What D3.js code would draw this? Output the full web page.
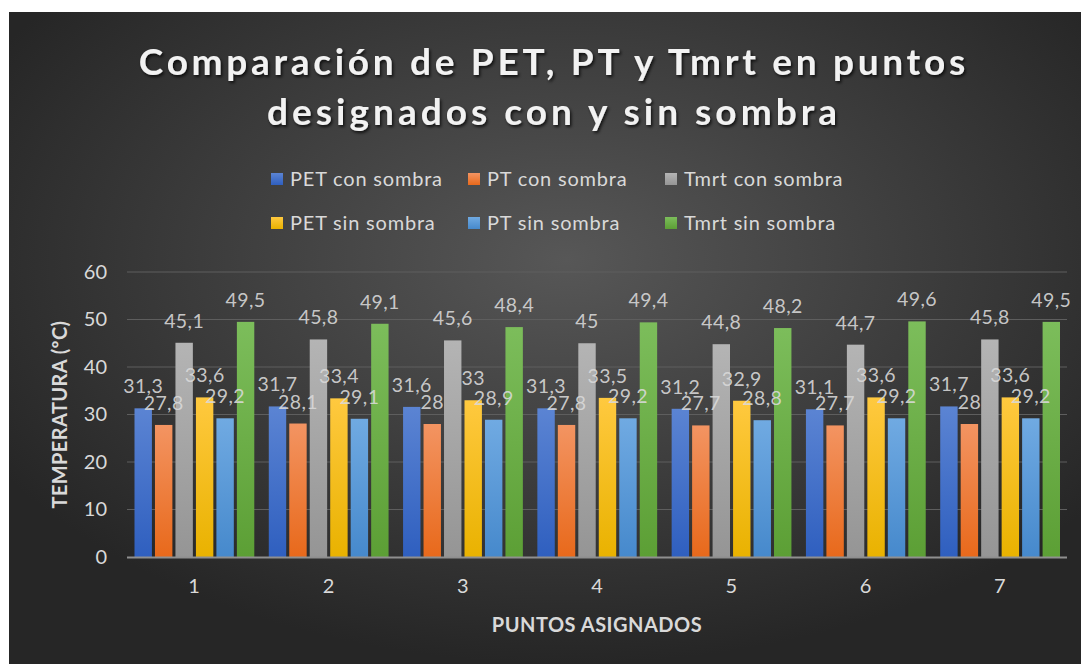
<!DOCTYPE html>
<html>
<head>
<meta charset="utf-8">
<script src="https://cdn.jsdelivr.net/npm/d3@7"></script>
<style>
	html, body { margin: 0; padding: 0; background: #ffffff; }
	svg { display: block; }
	text { font-family: Lato, 'Open Sans', sans-serif; }
</style>
</head>
<body>
<div id="chart"></div>
<script>
//----
//Data
//----
var categories = ['1', '2', '3', '4', '5', '6', '7']
var seriesNames = ['PET con sombra', 'PT con sombra', 'Tmrt con sombra', 'PET sin sombra', 'PT sin sombra', 'Tmrt sin sombra']
var petCon = [31.3, 31.7, 31.6, 31.3, 31.2, 31.1, 31.7]
var ptCon = [27.8, 28.1, 28, 27.8, 27.7, 27.7, 28]
var tmrtCon = [45.1, 45.8, 45.6, 45, 44.8, 44.7, 45.8]
var petSin = [33.6, 33.4, 33, 33.5, 32.9, 33.6, 33.6]
var ptSin = [29.2, 29.1, 28.9, 29.2, 28.8, 29.2, 29.2]
var tmrtSin = [49.5, 49.1, 48.4, 49.4, 48.2, 49.6, 49.5]
var yTicks = [0, 10, 20, 30, 40, 50, 60]

var seriesValues = [petCon, ptCon, tmrtCon, petSin, ptSin, tmrtSin]

//colours: [top of bar, bottom of bar]
var _colors = [
	['#5b84d3', '#2f5fbf'],
	['#f39462', '#e8691b'],
	['#b4b4b4', '#959595'],
	['#ffc93f', '#e9b200'],
	['#70aae2', '#4689cc'],
	['#7cbd5b', '#5c9f35']
]

var _width = 1086,
	_height = 664

var _plot = { left: 127, right: 1067, top: 272, bottom: 557 }

//----------------
//Build the chart
//----------------
var _svg = d3.select('#chart').append('svg')
	.attr('width', _width)
	.attr('height', _height)

var _defs = _svg.append('defs')

//Background gradient
var bg = _defs.append('radialGradient')
	.attr('id', 'bg')
	.attr('cx', '52%').attr('cy', '38%').attr('r', '62%')
bg.append('stop').attr('offset', '0%').attr('stop-color', '#575757')
bg.append('stop').attr('offset', '100%').attr('stop-color', '#262626')

//Bar gradients
_colors.forEach(function(c, i){
	var g = _defs.append('linearGradient')
		.attr('id', 'bar' + i)
		.attr('x1', 0).attr('y1', 0).attr('x2', 0).attr('y2', 1)
	g.append('stop').attr('offset', '0%').attr('stop-color', c[0])
	g.append('stop').attr('offset', '100%').attr('stop-color', c[1])
})

//Title shadow
var shadow = _defs.append('filter').attr('id', 'shadow')
	.attr('x', '-10%').attr('y', '-30%').attr('width', '120%').attr('height', '160%')
shadow.append('feDropShadow')
	.attr('dx', 1.5).attr('dy', 2).attr('stdDeviation', 1.6)
	.attr('flood-color', '#000000').attr('flood-opacity', 0.75)

_svg.append('rect')
	.attr('x', 9).attr('y', 12)
	.attr('width', 1072).attr('height', _height - 12)
	.attr('fill', 'url(#bg)')

//Title
var titleLines = ['Comparación de PET, PT y Tmrt en puntos', 'designados con y sin sombra']
var titleWidths = [830, 574]
var gTitle = _svg.append('g').attr('filter', 'url(#shadow)')
titleLines.forEach(function(t, i){
	var txt = gTitle.append('text')
		.attr('x', 552)
		.attr('y', 75 + i * 50)
		.attr('text-anchor', 'middle')
		.attr('font-family', "'Open Sans', Lato, sans-serif")
		.attr('font-weight', 'bold')
		.attr('font-size', 37)
		.attr('fill', '#f2f2f2')
		.text(t)
	//spread letters to the measured width
	var len = txt.node().getComputedTextLength()
	var n = t.length
	txt.attr('letter-spacing', ((titleWidths[i] - len) / n) + 'px')
	txt.attr('x', 552 + ((titleWidths[i] - len) / n) / 2)
})

//Legend
var gLegend = _svg.append('g')
seriesNames.forEach(function(s, i){
	var col = i % 3,
		row = Math.floor(i / 3)
	var lx = 271 + col * 197,
		ly = 179 + row * 44
	gLegend.append('rect')
		.attr('x', lx).attr('y', ly - 6)
		.attr('width', 12).attr('height', 12)
		.attr('fill', 'url(#bar' + i + ')')
	gLegend.append('text')
		.attr('x', lx + 19).attr('y', ly + 7)
		.attr('font-size', 20)
		.attr('letter-spacing', '0.8px')
		.attr('fill', '#d9d9d9')
		.text(s)
})

//Scales
var x0 = d3.scaleBand()
	.domain(categories)
	.range([_plot.left, _plot.right])

var x1 = d3.scaleBand()
	.domain(d3.range(seriesNames.length))
	.range([7.5, x0.bandwidth() - 7])
	.paddingInner(0.15)

var y = d3.scaleLinear()
	.domain([0, 60])
	.range([_plot.bottom, _plot.top])

//Gridlines
_svg.append('g')
	.selectAll('line')
	.data(yTicks.slice(1))
	.enter().append('line')
		.attr('x1', _plot.left).attr('x2', _plot.right)
		.attr('y1', function(d){ return y(d) }).attr('y2', function(d){ return y(d) })
		.attr('stroke', '#5e5e5e')
		.attr('stroke-width', 1)

//Y axis labels
var yAxis = _svg.append('g')
	.attr('transform', 'translate(' + (_plot.left - 20) + ',0)')
	.call(d3.axisLeft(y).tickValues(yTicks).tickSize(0).tickPadding(0))
yAxis.select('.domain').remove()
yAxis.selectAll('text')
	.attr('font-size', 20)
	.attr('fill', '#d9d9d9')
	.attr('font-family', 'Lato, sans-serif')

//Bars
var data = []
categories.forEach(function(c, ci){
	seriesValues.forEach(function(vals, si){
		data.push({ cat: c, s: si, v: vals[ci] })
	})
})

_svg.append('g')
	.selectAll('rect.bar')
	.data(data)
	.enter().append('rect')
		.classed('bar', true)
		.attr('x', function(d){ return x0(d.cat) + x1(d.s) })
		.attr('y', function(d){ return y(d.v) })
		.attr('width', x1.bandwidth())
		.attr('height', function(d){ return y(0) - y(d.v) })
		.attr('fill', function(d){ return 'url(#bar' + d.s + ')' })

//X axis line
_svg.append('line')
	.attr('x1', _plot.left).attr('x2', _plot.right)
	.attr('y1', y(0) + 0.5).attr('y2', y(0) + 0.5)
	.attr('stroke', '#8f8f8f')
	.attr('stroke-width', 2)

//X axis labels
var xAxis = _svg.append('g')
	.attr('transform', 'translate(0,' + (y(0) + 22) + ')')
	.call(d3.axisBottom(x0).tickSize(0).tickPadding(0))
xAxis.select('.domain').remove()
xAxis.selectAll('text')
	.attr('font-size', 20)
	.attr('fill', '#d9d9d9')
	.attr('font-family', 'Lato, sans-serif')

//Data labels
var fmt = function(v){ return String(v).replace('.', ',') }
_svg.append('g')
	.selectAll('text')
	.data(data)
	.enter().append('text')
		.attr('x', function(d){ return x0(d.cat) + x1(d.s) + x1.bandwidth() / 2 })
		.attr('y', function(d){ return y(d.v) - 15 })
		.attr('text-anchor', 'middle')
		.attr('font-size', 19.5)
		.attr('letter-spacing', '0.4px')
		.attr('fill', '#d9d9d9')
		.attr('fill-opacity', 0.9)
		.text(function(d){ return fmt(d.v) })

//Axis titles
_svg.append('text')
	.attr('transform', 'translate(67,' + ((_plot.top + _plot.bottom) / 2) + ') rotate(-90)')
	.attr('text-anchor', 'middle')
	.attr('font-size', 20)
	.attr('letter-spacing', '0.4px')
	.attr('font-weight', 'bold')
	.attr('fill', '#d9d9d9')
	.text('TEMPERATURA (ºC)')

_svg.append('text')
	.attr('x', (_plot.left + _plot.right) / 2)
	.attr('y', 632)
	.attr('text-anchor', 'middle')
	.attr('font-size', 20)
	.attr('letter-spacing', '0.5px')
	.attr('font-weight', 'bold')
	.attr('fill', '#d9d9d9')
	.text('PUNTOS ASIGNADOS')
</script>
</body>
</html>
